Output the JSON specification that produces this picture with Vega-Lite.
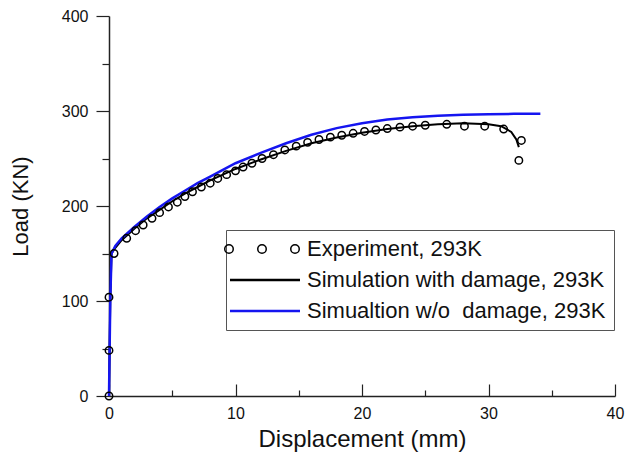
{
  "$schema": "https://vega.github.io/schema/vega-lite/v6.json",
  "width": 506,
  "height": 380,
  "autosize": {"type": "none"},
  "padding": {"left": 109, "top": 16, "right": 18, "bottom": 57},
  "background": "white",
  "config": {
    "view": {"stroke": null},
    "font": "Liberation Sans",
    "axis": {"domainColor": "#222", "domainWidth": 1.5, "tickColor": "#222", "tickWidth": 1.2, "grid": false, "labelFlush": false, "labelFont": "Liberation Sans", "titleFont": "Liberation Sans", "labelColor": "#111", "titleColor": "#111"}
  },
  "datasets": {
    "exp": [
      {"d": 0, "L": 0}, {"d": 0, "L": 48}, {"d": 0, "L": 104}, {"d": 0.4, "L": 150}, {"d": 1.4, "L": 166},
      {"d": 2.1, "L": 174}, {"d": 2.7, "L": 180}, {"d": 3.4, "L": 187}, {"d": 4.0, "L": 193}, {"d": 4.7, "L": 199},
      {"d": 5.4, "L": 204}, {"d": 6.0, "L": 210}, {"d": 6.6, "L": 215}, {"d": 7.3, "L": 220}, {"d": 8.0, "L": 224},
      {"d": 8.6, "L": 229}, {"d": 9.3, "L": 233}, {"d": 10.0, "L": 237}, {"d": 10.6, "L": 241}, {"d": 11.3, "L": 245},
      {"d": 12.1, "L": 250}, {"d": 13.0, "L": 254}, {"d": 13.9, "L": 259}, {"d": 14.8, "L": 263}, {"d": 15.7, "L": 267},
      {"d": 16.6, "L": 270}, {"d": 17.5, "L": 272.5}, {"d": 18.4, "L": 274.5}, {"d": 19.3, "L": 276.5}, {"d": 20.2, "L": 278.5},
      {"d": 21.1, "L": 280}, {"d": 22.0, "L": 281.5}, {"d": 23.0, "L": 283}, {"d": 24.0, "L": 284}, {"d": 25.0, "L": 285},
      {"d": 26.7, "L": 286}, {"d": 28.1, "L": 284}, {"d": 29.7, "L": 284}, {"d": 31.2, "L": 281}, {"d": 32.6, "L": 269},
      {"d": 32.4, "L": 248}
    ],
    "dmg": [
      {"d": 0, "L": 0}, {"d": 0.1, "L": 100}, {"d": 0.2, "L": 150}, {"d": 0.5, "L": 156}, {"d": 1, "L": 164},
      {"d": 2, "L": 176}, {"d": 3, "L": 187}, {"d": 4, "L": 196}, {"d": 5, "L": 205}, {"d": 6, "L": 213},
      {"d": 7, "L": 220}, {"d": 8, "L": 227}, {"d": 9, "L": 233}, {"d": 10, "L": 239}, {"d": 12, "L": 249},
      {"d": 14, "L": 258}, {"d": 16, "L": 266}, {"d": 18, "L": 272}, {"d": 20, "L": 277}, {"d": 22, "L": 281},
      {"d": 24, "L": 284}, {"d": 26, "L": 286}, {"d": 28, "L": 287}, {"d": 30, "L": 286}, {"d": 31, "L": 284},
      {"d": 31.8, "L": 278}, {"d": 32.2, "L": 270}, {"d": 32.4, "L": 262}
    ],
    "nodmg": [
      {"d": 0, "L": 0}, {"d": 0.1, "L": 100}, {"d": 0.2, "L": 150}, {"d": 0.5, "L": 158}, {"d": 1, "L": 166},
      {"d": 2, "L": 178}, {"d": 3, "L": 189}, {"d": 4, "L": 199}, {"d": 5, "L": 208}, {"d": 6, "L": 216},
      {"d": 7, "L": 224}, {"d": 8, "L": 231}, {"d": 9, "L": 238}, {"d": 10, "L": 245}, {"d": 12, "L": 256},
      {"d": 14, "L": 266}, {"d": 16, "L": 275}, {"d": 18, "L": 282}, {"d": 20, "L": 287}, {"d": 22, "L": 291},
      {"d": 24, "L": 293.5}, {"d": 26, "L": 295}, {"d": 28, "L": 296}, {"d": 30, "L": 296.5}, {"d": 32, "L": 297},
      {"d": 34.1, "L": 297}
    ]
  },
  "resolve": {"axis": {"x": "independent", "y": "independent"}},
  "layer": [
    {
      "data": {"name": "dmg"},
      "transform": [{"calculate": "'Simulation with damage, 293K'", "as": "s"}],
      "mark": {"type": "line", "strokeWidth": 2, "clip": false},
      "encoding": {
        "x": {"field": "d", "type": "quantitative", "scale": {"domain": [0, 40], "nice": false},
          "axis": {"values": [0, 10, 20, 30, 40], "ticks": false, "labelPadding": 9, "labelFontSize": 16, "title": "Displacement (mm)", "titleFontSize": 24, "titleFontWeight": "normal", "titlePadding": 6}},
        "y": {"field": "L", "type": "quantitative", "scale": {"domain": [0, 400], "nice": false},
          "axis": {"values": [0, 100, 200, 300, 400], "tickSize": 13, "labelPadding": 8, "labelFontSize": 16, "title": "Load (KN)", "titleFontSize": 22, "titleFontWeight": "normal", "titlePadding": 29}},
        "color": {"field": "s", "type": "nominal",
          "scale": {"domain": ["Experiment, 293K", "Simulation with damage, 293K", "Simualtion w/o\u00a0 damage, 293K"], "range": ["black", "black", "#1515f0"]},
          "legend": {
            "orient": "none", "legendX": 117, "legendY": 214, "title": null,
            "symbolSize": 100, "labelFontSize": 22, "labelColor": "#111", "labelFont": "Liberation Sans", "labelLimit": 600,
            "labelOffset": 51, "rowPadding": 9, "padding": 8,
            "strokeColor": "#555", "fillColor": "white",
            "encode": {"symbols": {"update": {
              "shape": {"signal": "datum.value === 'Experiment, 293K' ? 'M-2.35,0A0.85,0.85 0 1,1 -4.05,0A0.85,0.85 0 1,1 -2.35,0M4.25,0A0.85,0.85 0 1,1 2.55,0A0.85,0.85 0 1,1 4.25,0M10.85,0A0.85,0.85 0 1,1 9.15,0A0.85,0.85 0 1,1 10.85,0' : 'M-3,0H11'"},
              "stroke": {"signal": "indexof(datum.value, 'w/o') >= 0 ? '#1515f0' : 'black'"},
              "fill": {"value": "transparent"},
              "strokeWidth": {"signal": "datum.value === 'Experiment, 293K' ? 1.5 : 2.5"},
              "opacity": {"value": 1}
            }}}
          }}
      }
    },
    {
      "data": {"name": "nodmg"},
      "transform": [{"calculate": "'Simualtion w/o\u00a0 damage, 293K'", "as": "s"}],
      "mark": {"type": "line", "strokeWidth": 2.5, "clip": false},
      "encoding": {
        "x": {"field": "d", "type": "quantitative", "scale": {"domain": [0, 40], "nice": false},
          "axis": {"values": [0, 10, 20, 30, 40], "tickSize": 12, "labels": false, "domain": false, "title": null, "orient": "top", "offset": -380}},
        "y": {"field": "L", "type": "quantitative", "scale": {"domain": [0, 400], "nice": false},
          "axis": {"values": [50, 150, 250, 350], "tickSize": 7, "labels": false, "domain": false, "title": null, "orient": "left"}},
        "color": {"field": "s", "type": "nominal"}
      }
    },
    {
      "data": {"name": "exp"},
      "transform": [{"calculate": "'Experiment, 293K'", "as": "s"}],
      "mark": {"type": "point", "shape": "circle", "filled": false, "size": 55, "strokeWidth": 1.5, "opacity": 1},
      "encoding": {
        "x": {"field": "d", "type": "quantitative",
          "axis": {"values": [5, 15, 25, 35], "tickSize": 6, "labels": false, "domain": false, "title": null, "orient": "top", "offset": -380}},
        "y": {"field": "L", "type": "quantitative", "axis": null},
        "color": {"field": "s", "type": "nominal"}
      }
    }
  ]
}
